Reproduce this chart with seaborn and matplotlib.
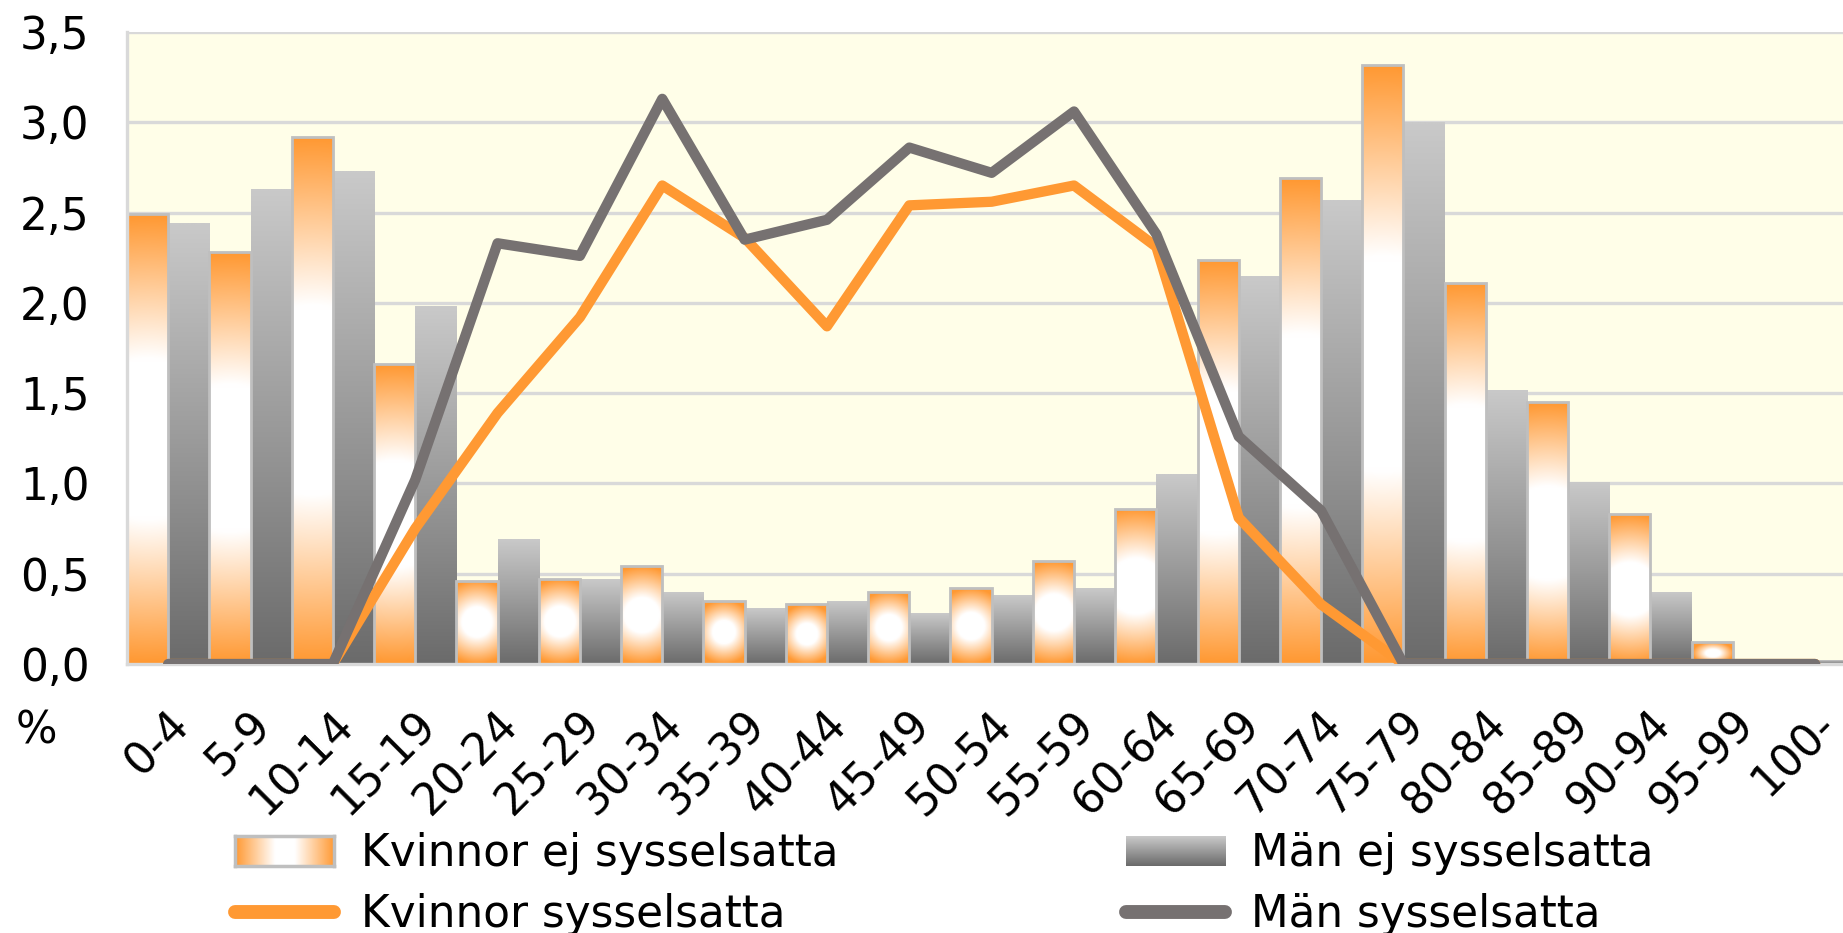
import numpy as np
import pandas as pd
import matplotlib
matplotlib.use("Agg")
import matplotlib.pyplot as plt
import seaborn as sns
from matplotlib.patches import Patch
from matplotlib.lines import Line2D
from matplotlib.colors import to_rgb
import matplotlib.transforms as mtransforms

# ---------------- data ----------------
age_groups = ["0-4", "5-9", "10-14", "15-19", "20-24", "25-29", "30-34", "35-39",
              "40-44", "45-49", "50-54", "55-59", "60-64", "65-69", "70-74", "75-79",
              "80-84", "85-89", "90-94", "95-99", "100-"]
kvinnor_ej = [2.49, 2.28, 2.92, 1.66, 0.46, 0.47, 0.54, 0.35, 0.33, 0.40, 0.42, 0.57,
              0.86, 2.24, 2.69, 3.32, 2.11, 1.45, 0.83, 0.12, 0.0]
man_ej = [2.44, 2.63, 2.73, 1.98, 0.69, 0.47, 0.40, 0.31, 0.35, 0.28, 0.38, 0.42,
          1.05, 2.15, 2.57, 3.00, 1.52, 1.01, 0.40, 0.03, 0.02]
kvinnor_syss = [0, 0, 0, 0.75, 1.39, 1.92, 2.65, 2.36, 1.87, 2.54, 2.56, 2.65,
                2.31, 0.81, 0.33, 0, 0, 0, 0, 0, 0]
man_syss = [0, 0, 0, 1.02, 2.33, 2.26, 3.13, 2.35, 2.46, 2.86, 2.72, 3.06,
            2.38, 1.26, 0.85, 0, 0, 0, 0, 0, 0]
series_labels = ["Kvinnor ej sysselsatta", "Män ej sysselsatta",
                 "Kvinnor sysselsatta", "Män sysselsatta"]
y_ticks = [0.0, 0.5, 1.0, 1.5, 2.0, 2.5, 3.0, 3.5]
y_tick_labels = ["0,0", "0,5", "1,0", "1,5", "2,0", "2,5", "3,0", "3,5"]
y_unit = "%"

# ---------------- style ----------------
ORANGE = "#FF9933"
LINE_GRAY = "#767171"
GRID = "#D9D9D9"
BG = "#FFFEE8"
EDGE = "#BFBFBF"
FS = 31.5

sns.set_theme(style="white")
plt.rcParams["font.family"] = ["DejaVu Sans"]
plt.rcParams["text.color"] = "black"
plt.rcParams["xtick.labelcolor"] = "black"
plt.rcParams["ytick.labelcolor"] = "black"

W, H = 1843, 933
fig = plt.figure(figsize=(W / 100, H / 100), dpi=100)
left_px, top_px, bottom_px = 127, 32, 664
cat_px = 82.35
ax = fig.add_axes([left_px / W, 1 - bottom_px / H,
                   21 * cat_px / W, (bottom_px - top_px) / H])
ax.set_facecolor(BG)

df = pd.DataFrame({
    "age": age_groups * 2,
    "value": kvinnor_ej + man_ej,
    "serie": [series_labels[0]] * len(age_groups) + [series_labels[1]] * len(age_groups),
})
sns.barplot(data=df, x="age", y="value", hue="serie",
            hue_order=[series_labels[0], series_labels[1]],
            palette=[ORANGE, "#999999"], width=1.0, gap=0, legend=False,
            saturation=1, ax=ax, order=age_groups)

pos = np.arange(len(age_groups))
sns.lineplot(x=pos, y=kvinnor_syss, color=ORANGE, lw=7.4, ax=ax, legend=False,
             solid_capstyle="round", solid_joinstyle="round", zorder=4)
sns.lineplot(x=pos, y=man_syss, color=LINE_GRAY, lw=7.4, ax=ax, legend=False,
             solid_capstyle="round", solid_joinstyle="round", zorder=5)

ax.set_xlim(-0.5, len(age_groups) - 0.5)
ax.set_ylim(0, 3.5)

px_per_x = cat_px
px_per_y = (bottom_px - top_px) / 3.5

o = np.array(to_rgb(ORANGE))
white = np.array([1.0, 1.0, 1.0])
g_top = np.array(to_rgb("#C9C9C9"))
g_bot = np.array(to_rgb("#6B6B6B"))


def orange_grad(wpx, hpx, ny=120, nx=40):
    yy, xx = np.mgrid[-1:1:ny * 1j, -1:1:nx * 1j]
    c = np.clip(1.0 * wpx / max(hpx, 1), 0, 1)
    t = np.sqrt(yy ** 2 + (c * xx) ** 2)
    f = np.clip((t - 0.36) / 0.64, 0, 1)
    return white[None, None, :] * (1 - f[..., None]) + o[None, None, :] * f[..., None]


def gray_grad(ny=120):
    s = np.linspace(0, 1, ny)[:, None]  # 0 bottom -> 1 top
    col = g_bot[None, :] * (1 - s) + g_top[None, :] * s
    return col[:, None, :]


for ci, cont in enumerate(ax.containers[:2]):
    for p in cont.patches:
        x0, y0 = p.get_x(), p.get_y()
        w, h = p.get_width(), p.get_height()
        if h <= 0:
            p.set_visible(False)
            continue
        if ci == 0:
            img = orange_grad(w * px_per_x, h * px_per_y)
            p.set_edgecolor(EDGE)
            p.set_linewidth(2.0)
        else:
            img = gray_grad()
            p.set_edgecolor("none")
            p.set_linewidth(0)
        p.set_facecolor("none")
        p.set_zorder(2)
        im = ax.imshow(img, extent=(x0, x0 + w, y0, y0 + h), origin="lower",
                       aspect="auto", interpolation="bilinear", zorder=1.5)
        im.set_clip_path(p)

ax.set_xlim(-0.5, len(age_groups) - 0.5)
ax.set_ylim(0, 3.5)
ax.set_aspect("auto")

# grid / spines / ticks
ax.set_axisbelow(True)
ax.yaxis.grid(True, color=GRID, lw=2.4)
ax.xaxis.grid(False)
ax.set_yticks(y_ticks)
ax.set_yticklabels(y_tick_labels)
ax.tick_params(axis="y", length=0, pad=27, labelsize=FS, labelcolor="black")
ax.set_xticks(pos)
ax.set_xticklabels(age_groups, rotation=45, ha="right", rotation_mode="anchor",
                   fontsize=FS, color="black")
ax.tick_params(axis="x", which="major", length=0, pad=39)
ax.set_xticks(np.arange(-0.5, len(age_groups)), minor=True)
ax.tick_params(axis="x", which="minor", length=11, width=2.2, color=GRID,
               direction="out")
offset = mtransforms.ScaledTranslation(14 / 100, 0, fig.dpi_scale_trans)
for lab in ax.get_xticklabels():
    lab.set_transform(lab.get_transform() + offset)
    lab.set_va("center")
for side in ["top", "right"]:
    ax.spines[side].set_visible(False)
for side in ["left", "bottom"]:
    ax.spines[side].set_color(GRID)
    ax.spines[side].set_linewidth(2.4)
ax.set_xlabel("")
ax.set_ylabel("")

fig.text(16 / W, 1 - 731 / H, y_unit, fontsize=FS, ha="left", va="center",
         color="black")

# legend
handles = [
    Patch(facecolor=ORANGE, edgecolor=EDGE, lw=2),
    Line2D([0], [0], color=ORANGE, lw=10, solid_capstyle="round"),
    Patch(facecolor="#999999", edgecolor="none"),
    Line2D([0], [0], color=LINE_GRAY, lw=10, solid_capstyle="round"),
]
labels = [series_labels[0], series_labels[2], series_labels[1], series_labels[3]]
leg = fig.legend(handles, labels, loc="upper left",
                 bbox_to_anchor=(235 / W, 1 - 832 / H), ncol=2, frameon=False,
                 fontsize=FS, handlelength=2.27, handleheight=0.67,
                 handletextpad=0.6, columnspacing=6.57, labelspacing=0.42,
                 borderpad=0, borderaxespad=0, labelcolor="black")

fig.canvas.draw()
renderer = fig.canvas.get_renderer()
lh = leg.legend_handles
for idx, kind in [(0, "orange"), (2, "gray")]:
    bb = lh[idx].get_window_extent(renderer).transformed(fig.transFigure.inverted())
    iax = fig.add_axes([bb.x0, bb.y0, bb.width, bb.height], zorder=10)
    if kind == "orange":
        xx = np.linspace(-1, 1, 80)
        f = np.clip((np.abs(xx) - 0.2) / 0.8, 0, 1)
        row = white[None, :] * (1 - f[:, None]) + o[None, :] * f[:, None]
        img = np.repeat(row[None, :, :], 4, axis=0)
        iax.imshow(img, aspect="auto", interpolation="bilinear")
        for s in iax.spines.values():
            s.set_color(EDGE)
            s.set_linewidth(2.5)
            s.set_visible(True)
    else:
        iax.imshow(np.repeat(gray_grad(40), 4, axis=1), aspect="auto",
                   interpolation="bilinear", origin="lower")
        for s in iax.spines.values():
            s.set_visible(False)
    iax.set_xticks([])
    iax.set_yticks([])

fig.savefig("out.png", dpi=100)
